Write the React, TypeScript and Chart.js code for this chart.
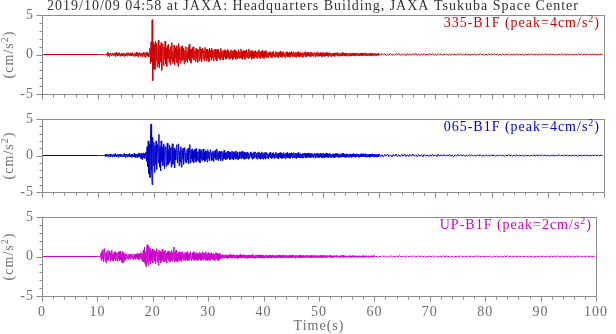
import React, { useEffect, useRef } from 'react';
import { Chart, registerables } from 'chart.js';

Chart.register(...registerables);

// ---------- text ----------
const TITLE = '2019/10/09 04:58 at JAXA: Headquarters Building, JAXA Tsukuba Space Center';
const X_TITLE = 'Time(s)';
const Y_TITLE = '(cm/s';
const LABELS = ['335-B1F', '065-B1F', 'UP-B1F'];
const PEAKS = [4, 4, 2];
const COLORS = ['#d00000', '#0000cc', '#cc00cc'];

// ---------- axes ----------
const X_MIN = 0;
const X_MAX = 100;
const X_STEP = 10;
const X_MINOR = 2;
const Y_MIN = -5;
const Y_MAX = 5;
const Y_STEP = 5;
const Y_MINOR = 1;

// ---------- sampling of the traces (s) ----------
const A_START = 10; const A_STEP = 0.1; // 10.0 .. 39.9 s
const B_START = 40; const B_STEP = 0.1; // 40.0 .. 59.9 s
const C_START = 60; const C_STEP = 0.25; // 60.0 .. 99.75 s

// ===== 335-B1F (cm/s^2) =====
const ns335A = [
  0, 0, 0, 0, 0, 0, 0, 0, 0, 0,
  0, 0, 0, 0, 0, 0.1, -0.2, 0.3, -0.1, 0.2,
  -0.3, 0.1, 0.2, -0.1, -0.2, 0.15, 0.05, -0.15, 0.2, -0.1,
  0.1, -0.25, 0.3, -0.05, 0.1, -0.2, 0.15, -0.1, 0.25, -0.2,
  0.05, 0.15, -0.2, 0.1, -0.1, 0.2, -0.25, 0.1, 0.05, -0.15,
  0.2, -0.1, -0.2, 0.25, -0.05, 0.1, -0.2, 0.2, -0.1, 0.15,
  -0.2, 0.25, -0.1, 0.05, -0.25, 0.2, 0.1, -0.2, 0.3, -0.15,
  0.1, -0.3, 0.2, -0.1, 0.25, -0.2, 0.05, 0.2, -0.3, 0.15,
  -0.1, 0.3, -0.25, 0.2, -0.35, 0.25, -0.1, 0.3, -0.2, 0.1,
  -0.3, 0.2, 0.8, -1.2, 1.6, -0.9, 4.4, -3.3, 1.5, -1.8,
  1.2, -1.9, 1.7, -0.8, 1.4, -1.6, 0.6, 1.8, -1.2, -1.7,
  1.1, -0.9, 1.5, -2.0, 0.7, 1.3, -1.4, 0.9, -0.6, 1.7,
  -1.2, 0.8, -1.5, 1.1, -0.5, 1.3, -1.0, 0.6, -1.3, 1.0,
  -0.7, 1.5, -1.1, 0.4, -0.9, 1.2, -1.3, 0.8, -0.4, 1.1,
  -1.0, 0.7, -1.5, 1.4, -0.6, 0.9, -1.1, 0.5, 1.0, -0.8,
  1.1, -0.6, 0.8, -1.2, 0.5, -0.9, 1.0, -0.7, 0.4, -1.0,
  0.9, -0.5, 1.3, -0.8, 0.6, -1.1, 0.7, -0.4, 0.9, -0.7,
  1.0, -0.6, 0.5, -0.9, 0.8, -0.5, 0.7, -1.0, 0.4, 0.6,
  -0.8, 1.0, -0.5, 0.7, -0.9, 0.3, 0.8, -0.6, 0.5, -0.8,
  0.9, -0.4, 0.6, -0.8, 0.7, -0.5, 0.4, -0.9, 0.8, -0.3,
  0.6, -0.7, 0.8, -0.4, 0.5, -0.8, 0.6, -0.3, 0.7, -0.6,
  0.5, -0.8, 0.7, -0.4, 0.6, -0.5, 0.3, -0.7, 0.8, -0.4,
  0.5, -0.6, 0.4, -0.7, 0.6, -0.3, 0.5, -0.6, 0.4, -0.5,
  0.7, -0.4, 0.5, -0.6, 0.3, -0.5, 0.6, -0.4, 0.5, -0.7,
  0.4, -0.5, 0.6, -0.3, 0.5, -0.6, 0.4, -0.5, 0.3, -0.4,
  0.6, -0.5, 0.3, -0.4, 0.7, -0.5, 0.4, -0.6, 0.5, -0.3,
  0.4, -0.6, 0.5, -0.3, 0.6, -0.4, 0.3, -0.5, 0.7, -0.4,
  0.5, -0.3, 0.4, -0.6, 0.5, -0.4, 0.3, -0.5, 0.4, -0.3,
  0.5, -0.4, 0.3, -0.5, 0.4, -0.3, 0.6, -0.4, 0.3, -0.5,
  0.4, -0.3, 0.5, -0.4, 0.3, -0.5, 0.4, -0.3, 0.5, -0.4,
];
const ns335B = [
  0.4, -0.3, 0.2, -0.45, 0.3, -0.1, 0.35, -0.3, 0.15, -0.4,
  0.3, -0.2, 0.45, -0.35, 0.1, -0.3, 0.4, -0.2, 0.3, -0.35,
  0.2, -0.4, 0.3, -0.15, 0.45, -0.3, 0.2, -0.35, 0.3, -0.2,
  0.35, -0.25, 0.1, -0.4, 0.3, -0.2, 0.35, -0.3, 0.15, -0.25,
  0.3, -0.35, 0.2, -0.1, 0.4, -0.3, 0.25, -0.2, 0.35, -0.15,
  -0.3, 0.25, -0.35, 0.15, 0.3, -0.2, 0.35, -0.3, 0.1, -0.25,
  0.3, -0.2, 0.15, -0.35, 0.25, -0.3, 0.2, -0.1, 0.35, -0.25,
  0.2, -0.3, 0.25, -0.15, 0.3, -0.2, 0.1, -0.3, 0.25, -0.2,
  0.3, -0.15, 0.2, -0.25, 0.1, 0.25, -0.3, 0.2, -0.15, 0.25,
  -0.2, 0.3, -0.25, 0.1, -0.2, 0.25, -0.15, 0.2, -0.3, 0.15,
  0.25, -0.2, 0.1, -0.25, 0.2, -0.15, 0.3, -0.2, 0.15, -0.25,
  0.2, -0.1, 0.25, -0.2, 0.15, -0.25, 0.1, -0.15, 0.2, -0.2,
  0.15, -0.25, 0.2, -0.1, 0.2, -0.15, 0.25, -0.2, 0.1, -0.2,
  0.2, -0.15, 0.1, -0.2, 0.25, -0.15, 0.2, -0.1, 0.15, -0.2,
  0.15, -0.2, 0.2, -0.1, 0.15, -0.2, 0.1, -0.15, 0.2, -0.15,
  0.1, -0.2, 0.15, -0.1, 0.2, -0.15, 0.1, -0.2, 0.15, -0.1,
  0.2, -0.1, 0.15, -0.15, 0.1, -0.2, 0.15, -0.1, 0.2, -0.15,
  0.1, -0.15, 0.2, -0.1, 0.15, -0.1, 0.2, -0.15, 0.1, -0.15,
  0.15, -0.1, 0.1, -0.2, 0.15, -0.1, 0.1, -0.15, 0.2, -0.1,
  0.1, -0.15, 0.15, -0.1, 0.1, -0.15, 0.1, -0.1, 0.15, -0.1,
];
const ns335C = [
  0.1, -0.1, 0.15, -0.05, 0.1, -0.15, 0.05, -0.1,
  0.15, -0.1, 0.05, -0.1, 0.1, -0.05, 0.15, -0.1,
  0.05, -0.1, 0.1, -0.15, 0.1, -0.05, 0.1, -0.1,
  0.1, -0.05, 0.15, -0.1, 0.05, -0.1, 0.1, -0.05,
  0.1, -0.1, 0.05, -0.1, 0.15, -0.05, 0.1, -0.1,
  0.05, -0.1, 0.1, -0.05, 0.1, -0.1, 0.05, -0.05,
  0.1, -0.1, 0.05, -0.1, 0.1, -0.05, 0.05, -0.1,
  0.1, -0.05, 0.1, -0.1, 0.05, -0.05, 0.1, -0.1,
  0.05, -0.1, 0.05, -0.05, 0.1, -0.1, 0.05, -0.05,
  0.1, -0.05, 0.05, -0.1, 0.05, -0.05, 0.1, -0.05,
  0.05, -0.05, 0.1, -0.05, 0.05, -0.1, 0.05, -0.05,
  0.1, -0.05, 0.05, -0.05, 0.05, -0.1, 0.05, -0.05,
  0.05, -0.05, 0.1, -0.05, 0.05, -0.05, 0.05, -0.1,
  0.05, -0.05, 0.05, -0.05, 0.1, -0.05, 0.05, -0.05,
  0.05, -0.1, 0.05, -0.05, 0.05, -0.05, 0.1, -0.05,
  0.05, -0.05, 0.05, -0.05, 0.05, -0.1, 0.05, -0.05,
  0.05, -0.05, 0.1, -0.05, 0.05, -0.05, 0.05, -0.05,
  0.05, -0.05, 0.05, -0.05, 0.05, -0.05, 0.1, -0.05,
  0.05, -0.05, 0.05, -0.05, 0.05, -0.05, 0.05, -0.05,
  0.05, -0.05, 0.05, -0.05, 0.05, -0.05, 0.05, 0,
];

// ===== 065-B1F (cm/s^2) =====
const ew065A = [
  0, 0, 0, 0, 0, 0, 0, 0, 0, 0,
  0, 0, 0.1, -0.15, 0.2, -0.1, 0.05, 0.15, -0.2, 0.1,
  -0.1, 0.2, -0.15, 0.05, 0.2, -0.2, 0.1, -0.05, 0.15, -0.2,
  0.25, -0.1, 0.05, -0.2, 0.15, 0.1, -0.25, 0.2, -0.1, 0.15,
  -0.2, 0.1, 0.2, -0.15, 0.05, -0.2, 0.25, -0.1, 0.15, -0.25,
  0.1, 0.2, -0.2, 0.15, -0.1, 0.25, -0.2, 0.05, -0.15, 0.2,
  -0.25, 0.15, 0.05, -0.2, 0.3, -0.15, 0.2, -0.3, 0.1, 0.2,
  -0.3, 0.25, -0.15, 0.35, -0.2, 0.1, -0.4, 0.3, -0.55, 0.2,
  0.35, -0.3, 0.25, -0.4, 0.3, 0.5, -0.8, 1.2, -1.5, 2.0,
  -2.5, 1.6, -3.0, 2.4, 4.3, -2.0, -4.0, 2.5, -1.4, 1.8,
  -2.3, 1.4, -1.2, 2.0, -1.9, 0.8, 1.5, -1.0, 2.9, -1.6,
  1.2, -2.1, 2.0, -0.8, 1.1, -1.4, 1.5, -0.6, -1.8, 1.0,
  1.2, -1.5, 0.6, 1.7, -1.3, 0.8, -1.0, 1.4, -0.7, 1.1,
  -1.6, 0.9, 1.6, -1.2, 0.5, 1.0, -1.7, 0.8, -0.6, 1.2,
  1.5, -1.0, 0.7, 1.6, -1.4, 0.6, -0.9, 1.2, -1.6, 0.8,
  -0.5, 1.0, -1.2, 0.6, 1.1, -0.9, 0.4, -1.0, 0.8, -0.6,
  1.0, -1.1, 0.5, 1.5, -1.0, 0.7, -0.5, 0.9, -0.8, 0.6,
  -1.0, 0.8, -0.4, 0.9, -0.9, 1.0, -0.6, 0.5, -0.8, 0.7,
  0.9, -1.0, 0.6, -0.5, 0.8, -0.7, 0.4, 0.9, -0.6, 0.5,
  -0.8, 0.7, -0.5, 0.6, -0.9, 0.8, -0.4, 0.5, -0.7, 0.6,
  0.8, -0.7, 0.4, -0.6, 0.6, -0.8, 0.5, -0.3, 0.7, -0.5,
  -0.6, 0.9, -0.5, 0.4, -0.7, 0.6, -0.4, 0.5, -0.7, 0.3,
  0.6, -0.7, 0.4, -0.5, 0.7, -0.4, 0.3, -0.6, 0.5, -0.4,
  -0.5, 0.6, -0.3, 0.5, -0.6, 0.4, -0.5, 0.3, 0.6, -0.5,
  0.5, -0.6, 0.4, -0.3, 0.6, -0.5, 0.3, -0.4, 0.5, -0.6,
  -0.6, 0.5, -0.4, 0.3, 0.5, -0.5, 0.6, -0.3, 0.4, -0.5,
  0.5, -0.5, 0.3, -0.4, 0.4, -0.3, 0.5, -0.5, 0.3, -0.4,
  -0.4, 0.5, -0.3, 0.4, -0.5, 0.3, -0.4, 0.5, -0.3, 0.4,
  0.5, -0.4, 0.3, -0.5, 0.4, -0.3, 0.5, -0.4, 0.3, -0.5,
  -0.4, 0.5, -0.4, 0.3, -0.5, 0.4, -0.3, 0.4, -0.5, 0.3,
];
const ew065B = [
  0.4, -0.35, 0.2, -0.45, 0.3, -0.2, 0.45, -0.3, 0.15, -0.4,
  0.35, -0.25, 0.4, -0.4, 0.2, -0.3, 0.45, -0.25, 0.3, -0.4,
  0.25, -0.45, 0.35, -0.2, 0.4, -0.35, 0.3, -0.4, 0.2, -0.3,
  0.4, -0.3, 0.2, -0.45, 0.35, -0.25, 0.4, -0.3, 0.2, -0.35,
  0.35, -0.4, 0.25, -0.2, 0.4, -0.35, 0.3, -0.25, 0.4, -0.2,
  -0.35, 0.3, -0.4, 0.2, 0.35, -0.25, 0.4, -0.3, 0.15, -0.35,
  0.3, -0.25, 0.2, -0.35, 0.3, -0.3, 0.25, -0.15, 0.35, -0.3,
  0.25, -0.35, 0.3, -0.2, 0.35, -0.25, 0.15, -0.3, 0.3, -0.25,
  0.3, -0.2, 0.25, -0.3, 0.15, 0.3, -0.35, 0.25, -0.2, 0.3,
  -0.25, 0.35, -0.3, 0.15, -0.25, 0.3, -0.2, 0.25, -0.35, 0.2,
  0.3, -0.25, 0.15, -0.3, 0.25, -0.2, 0.35, -0.25, 0.2, -0.3,
  0.25, -0.15, 0.3, -0.25, 0.2, -0.3, 0.15, -0.2, 0.25, -0.25,
  0.2, -0.3, 0.25, -0.15, 0.25, -0.2, 0.3, -0.25, 0.15, -0.25,
  0.25, -0.2, 0.15, -0.25, 0.3, -0.2, 0.25, -0.15, 0.2, -0.25,
  0.2, -0.25, 0.25, -0.15, 0.2, -0.25, 0.15, -0.2, 0.25, -0.2,
  0.15, -0.25, 0.2, -0.15, 0.25, -0.2, 0.15, -0.25, 0.2, -0.15,
  0.25, -0.15, 0.2, -0.2, 0.15, -0.25, 0.2, -0.15, 0.25, -0.2,
  0.15, -0.2, 0.25, -0.15, 0.2, -0.15, 0.25, -0.2, 0.15, -0.2,
  0.2, -0.15, 0.15, -0.25, 0.2, -0.15, 0.15, -0.2, 0.25, -0.15,
  0.15, -0.2, 0.2, -0.15, 0.15, -0.2, 0.15, -0.15, 0.2, -0.15,
];
const ew065C = [
  0.2, -0.15, 0.1, -0.2, 0.15, -0.1, 0.2, -0.15,
  0.1, -0.2, 0.15, -0.1, 0.2, -0.15, 0.1, -0.15,
  0.15, -0.1, 0.2, -0.15, 0.1, -0.15, 0.15, -0.1,
  0.2, -0.1, 0.1, -0.15, 0.15, -0.1, 0.1, -0.2,
  0.15, -0.1, 0.1, -0.15, 0.1, -0.1, 0.15, -0.1,
  0.1, -0.15, 0.15, -0.1, 0.1, -0.1, 0.15, -0.1,
  0.1, -0.1, 0.15, -0.1, 0.05, -0.15, 0.1, -0.1,
  0.15, -0.1, 0.1, -0.05, 0.1, -0.1, 0.05, -0.1,
  0.1, -0.05, 0.1, -0.1, 0.05, -0.1, 0.1, -0.05,
  0.1, -0.1, 0.05, -0.1, 0.1, -0.05, 0.05, -0.1,
  0.1, -0.05, 0.05, -0.1, 0.05, -0.05, 0.1, -0.05,
  0.05, -0.1, 0.05, -0.05, 0.1, -0.05, 0.05, -0.1,
  0.05, -0.05, 0.1, -0.05, 0.05, -0.05, 0.05, -0.1,
  0.05, -0.05, 0.05, -0.1, 0.05, -0.05, 0.1, -0.05,
  0.05, -0.05, 0.05, -0.05, 0.1, -0.05, 0.05, -0.05,
  0.05, -0.1, 0.05, -0.05, 0.05, -0.05, 0.05, -0.05,
  0.1, -0.05, 0.05, -0.05, 0.05, -0.05, 0.05, -0.05,
  0.05, -0.05, 0.05, -0.05, 0.05, -0.1, 0.05, -0.05,
  0.05, -0.05, 0.05, -0.05, 0.05, -0.05, 0.05, -0.05,
  0.05, -0.05, 0.05, -0.05, 0.05, -0.05, 0.05, 0,
];

// ===== UP-B1F (cm/s^2) =====
const udA = [
  0, 0, 0, 0, 0, 0, 0.4, -0.5, 0.7, -0.3,
  0.9, -0.7, 0.5, 1.0, -0.6, 0.4, -0.8, 0.6, -0.4, 0.8,
  -0.5, 0.3, 0.7, -0.6, 0.5, -0.4, 0.8, -0.5, 0.3, -0.6,
  0.5, -0.3, 0.6, -0.5, 0.2, 0.4, -0.6, 0.5, -0.3, 0.6,
  -0.5, 0.7, -0.4, 0.3, -0.7, 0.6, -0.8, 0.4, 0.5, -0.6,
  0.3, -0.4, 0.2, 0.35, -0.3, 0.15, -0.35, 0.3, -0.2, 0.25,
  -0.3, 0.2, 0.35, -0.25, 0.1, -0.4, 0.3, -0.2, 0.25, -0.35,
  0.3, -0.2, 0.4, -0.3, 0.25, -0.4, 0.35, -0.15, 0.5, -0.35,
  0.4, -0.6, 0.5, 0.8, -0.7, 1.2, -1.0, 0.6, -1.3, 0.9,
  1.5, -0.8, -1.1, 1.3, -0.6, 1.0, -0.9, 0.7, -0.5, 0.9,
  -0.8, 0.5, 0.9, -0.6, 0.7, -0.9, 0.4, 1.0, -0.7, 0.6,
  -1.1, 0.8, -0.5, 0.7, -0.8, 0.5, -0.6, 0.9, -0.4, 0.6,
  -0.7, 0.5, 0.8, -0.6, 0.4, -0.8, 0.6, -0.3, 0.7, -0.5,
  0.6, -0.7, 0.4, -0.5, 0.8, -0.6, 0.5, -0.4, 1.2, -0.7,
  0.6, -0.5, 0.8, -0.6, 0.3, -0.7, 0.5, -0.4, 0.6, -0.5,
  0.4, -0.6, 0.5, -0.3, 0.6, -0.5, 0.3, -0.4, 0.5, -0.6,
  0.5, -0.4, 0.6, -0.5, 0.3, -0.5, 0.4, -0.3, 0.6, -0.4,
  -0.5, 0.4, -0.3, 0.6, -0.4, 0.5, -0.5, 0.3, -0.4, 0.5,
  0.4, -0.5, 0.3, -0.4, 0.5, -0.3, 0.4, -0.5, 0.3, -0.4,
  0.6, -0.4, 0.5, -0.3, 0.4, -0.5, 0.6, -0.4, 0.3, -0.5,
  0.5, -0.4, 0.3, -0.5, 0.4, -0.3, 0.5, -0.4, 0.3, -0.4,
  0.4, -0.5, 0.3, -0.4, 0.5, -0.3, 0.4, -0.4, 0.3, -0.5,
  0.4, -0.3, 0.2, -0.25, 0.2, -0.15, 0.25, -0.2, 0.15, -0.2,
  0.2, -0.15, 0.25, -0.2, 0.1, -0.25, 0.2, -0.15, 0.2, -0.1,
  0.25, -0.2, 0.15, -0.2, 0.2, -0.1, 0.25, -0.2, 0.15, -0.2,
  0.2, -0.15, 0.2, -0.25, 0.1, -0.2, 0.2, -0.15, 0.25, -0.2,
  0.15, -0.2, 0.2, -0.1, 0.25, -0.2, 0.15, -0.2, 0.2, -0.15,
  0.2, -0.25, 0.15, -0.2, 0.2, -0.15, 0.1, -0.2, 0.2, -0.15,
  0.25, -0.2, 0.15, -0.2, 0.1, -0.2, 0.2, -0.15, 0.2, -0.1,
  0.2, -0.15, 0.2, -0.2, 0.15, -0.1, 0.2, -0.2, 0.15, -0.2,
];
const udB = [
  0.15, -0.2, 0.1, -0.15, 0.2, -0.1, 0.15, -0.2, 0.1, -0.15,
  0.2, -0.1, 0.15, -0.2, 0.1, -0.15, 0.2, -0.1, 0.15, -0.15,
  0.1, -0.2, 0.15, -0.1, 0.2, -0.15, 0.1, -0.15, 0.2, -0.1,
  0.15, -0.15, 0.1, -0.2, 0.15, -0.1, 0.2, -0.15, 0.1, -0.15,
  0.2, -0.1, 0.15, -0.15, 0.1, -0.2, 0.15, -0.1, 0.15, -0.15,
  0.1, -0.15, 0.2, -0.1, 0.15, -0.15, 0.1, -0.2, 0.15, -0.1,
  0.15, -0.1, 0.1, -0.15, 0.15, -0.1, 0.2, -0.15, 0.1, -0.15,
  0.1, -0.15, 0.15, -0.1, 0.1, -0.15, 0.15, -0.1, 0.15, -0.1,
  0.15, -0.1, 0.1, -0.15, 0.1, -0.1, 0.15, -0.15, 0.1, -0.1,
  0.1, -0.15, 0.15, -0.1, 0.1, -0.1, 0.15, -0.1, 0.1, -0.15,
  0.1, -0.1, 0.15, -0.1, 0.1, -0.15, 0.1, -0.1, 0.15, -0.1,
  0.1, -0.15, 0.1, -0.1, 0.15, -0.1, 0.1, -0.05, 0.1, -0.1,
  0.15, -0.1, 0.1, -0.1, 0.05, -0.15, 0.1, -0.1, 0.1, -0.05,
  0.1, -0.1, 0.15, -0.05, 0.1, -0.1, 0.05, -0.1, 0.1, -0.1,
  0.1, -0.05, 0.1, -0.1, 0.15, -0.1, 0.05, -0.1, 0.1, -0.05,
  0.1, -0.1, 0.05, -0.1, 0.1, -0.05, 0.1, -0.1, 0.05, -0.1,
  0.1, -0.05, 0.1, -0.1, 0.05, -0.1, 0.1, -0.05, 0.1, -0.1,
  0.05, -0.1, 0.1, -0.05, 0.1, -0.1, 0.05, -0.1, 0.1, -0.05,
  0.1, -0.1, 0.05, -0.1, 0.1, -0.05, 0.1, -0.05, 0.05, -0.1,
  0.1, -0.05, 0.05, -0.1, 0.1, -0.05, 0.05, -0.1, 0.1, -0.05,
];
const udC = [
  0.1, -0.05, 0.05, -0.1, 0.05, -0.05, 0.1, -0.05,
  0.05, -0.1, 0.05, -0.05, 0.1, -0.05, 0.05, -0.05,
  0.05, -0.05, 0.1, -0.05, 0.05, -0.05, 0.05, -0.1,
  0.05, -0.05, 0.05, -0.05, 0.1, -0.05, 0.05, -0.05,
  0.1, -0.05, 0.05, -0.05, 0.05, -0.1, 0.05, -0.05,
  0.05, -0.05, 0.05, -0.1, 0.05, -0.05, 0.05, -0.05,
  0.05, -0.05, 0.1, -0.05, 0.05, -0.05, 0.05, -0.05,
  0.05, -0.1, 0.05, -0.05, 0.05, -0.05, 0.1, -0.05,
  0.05, -0.05, 0.05, -0.05, 0.05, -0.05, 0.05, -0.05,
  0.05, -0.05, 0.1, -0.05, 0.05, -0.05, 0.05, -0.05,
  0.05, -0.05, 0.05, -0.05, 0.05, -0.1, 0.05, -0.05,
  0.05, -0.05, 0.05, -0.05, 0.05, -0.05, 0.05, -0.05,
  0.1, -0.05, 0.05, -0.05, 0.05, -0.05, 0.05, -0.05,
  0.05, -0.05, 0.05, -0.05, 0.05, -0.05, 0.05, -0.05,
  0.05, -0.05, 0.05, -0.1, 0.05, -0.05, 0.05, -0.05,
  0.05, -0.05, 0.05, -0.05, 0.05, -0.05, 0.05, -0.05,
  0.05, -0.05, 0.05, -0.05, 0.1, -0.05, 0.05, -0.05,
  0.05, -0.05, 0.05, -0.05, 0.05, -0.05, 0.05, -0.05,
  0.05, -0.05, 0.05, -0.05, 0.05, -0.05, 0.05, -0.05,
  0.05, -0.05, 0.05, -0.05, 0.05, -0.05, 0.05, 0,
];

const SERIES = [
  [ns335A, ns335B, ns335C],
  [ew065A, ew065B, ew065C],
  [udA, udB, udC],
];

// ---------- style ----------
const FONT = "'Liberation Serif', 'Times New Roman', serif";
const AXIS_COLOR = '#8c8c8c';
const TICK_TEXT = '#6e6e6e';
const TITLE_COLOR = '#333333';
const SPACING = '1px';

function buildPoints(a: number[], b: number[], c: number[]) {
  const pts: { x: number; y: number }[] = [{ x: X_MIN, y: 0 }];
  const push = (arr: number[], start: number, step: number) =>
    arr.forEach((v, i) => pts.push({ x: Math.round((start + i * step) * 100) / 100, y: v }));
  push(a, A_START, A_STEP);
  push(b, B_START, B_STEP);
  push(c, C_START, C_STEP);
  return pts;
}

function drawWithSup(ctx: any, base: string, sup: string, tail: string, x: number, y: number, size: number, align: 'left' | 'right' | 'center') {
  const mainFont = `${size}px ${FONT}`;
  const supFont = `${Math.round(size * 0.72)}px ${FONT}`;
  ctx.font = mainFont;
  const w1 = ctx.measureText(base).width;
  const w3 = ctx.measureText(tail).width;
  ctx.font = supFont;
  const w2 = ctx.measureText(sup).width;
  const total = w1 + w2 + w3;
  let sx = x;
  if (align === 'right') sx = x - total;
  else if (align === 'center') sx = x - total / 2;
  ctx.textAlign = 'left';
  ctx.textBaseline = 'alphabetic';
  ctx.font = mainFont;
  ctx.fillText(base, sx, y);
  ctx.font = supFont;
  ctx.fillText(sup, sx + w1, y - size * 0.38);
  ctx.font = mainFont;
  ctx.fillText(tail, sx + w1 + w2, y);
}

const decorPlugin = {
  id: 'decor',
  beforeLayout(chart: any) {
    chart.ctx.letterSpacing = SPACING;
  },
  beforeDraw(chart: any) {
    chart.ctx.letterSpacing = SPACING;
  },
  afterDraw(chart: any, _args: any, opts: any) {
    const { ctx, chartArea: a, scales } = chart;
    const xs = scales.x;
    const ys = scales.y;
    ctx.save();
    ctx.letterSpacing = SPACING;
    ctx.strokeStyle = AXIS_COLOR;
    ctx.lineWidth = 1;
    const L = Math.round(a.left) + 0.5;
    const T = Math.round(a.top) + 0.5;
    const R = Math.round(a.right) + 0.5;
    const B = Math.round(a.bottom) + 0.5;
    ctx.strokeRect(L, T, R - L, B - T);
    ctx.beginPath();
    for (let v = Y_MIN; v <= Y_MAX; v += Y_MINOR) {
      const y = Math.round(ys.getPixelForValue(v)) + 0.5;
      const len = v % Y_STEP === 0 ? 6 : 3;
      ctx.moveTo(L - len, y);
      ctx.lineTo(L, y);
    }
    for (let t = X_MIN; t <= X_MAX; t += X_MINOR) {
      const x = Math.round(xs.getPixelForValue(t)) + 0.5;
      const len = t % X_STEP === 0 ? 5 : 3;
      ctx.moveTo(x, B);
      ctx.lineTo(x, B + len);
    }
    ctx.stroke();

    // panel annotation
    ctx.fillStyle = opts.color;
    drawWithSup(ctx, `${opts.label} (peak=${opts.peak}cm/s`, '2', ')', a.right - 4, a.top + 12, 14, 'right');

    // y-axis title
    ctx.fillStyle = TICK_TEXT;
    ctx.save();
    ctx.translate(13, (a.top + a.bottom) / 2);
    ctx.rotate(-Math.PI / 2);
    drawWithSup(ctx, Y_TITLE, '2', ')', 0, 0, 14, 'center');
    ctx.restore();

    if (opts.title) {
      ctx.fillStyle = TITLE_COLOR;
      ctx.font = `14px ${FONT}`;
      ctx.textAlign = 'center';
      ctx.textBaseline = 'alphabetic';
      ctx.fillText(opts.title, 313, 10);
    }
    if (opts.xTitle) {
      ctx.fillStyle = TICK_TEXT;
      ctx.font = `14px ${FONT}`;
      ctx.textAlign = 'center';
      ctx.textBaseline = 'alphabetic';
      ctx.fillText(opts.xTitle, (a.left + a.right) / 2, a.bottom + 34);
    }
    ctx.restore();
  },
};

type PanelProps = {
  idx: number;
  top: number;
  height: number;
  padTop: number;
  xHeight: number;
  showX: boolean;
  title?: string;
  xTitle?: string;
};

function Panel({ idx, top, height, padTop, xHeight, showX, title, xTitle }: PanelProps) {
  const ref = useRef<HTMLCanvasElement | null>(null);
  useEffect(() => {
    if (!ref.current) return;
    const [a, b, c] = SERIES[idx];
    const chart = new Chart(ref.current, {
      type: 'line',
      data: {
        datasets: [
          {
            data: buildPoints(a, b, c),
            borderColor: COLORS[idx],
            borderWidth: 1,
            pointRadius: 0,
            tension: 0,
            fill: false,
          },
        ],
      },
      options: {
        animation: false,
        responsive: false,
        maintainAspectRatio: false,
        devicePixelRatio: 1,
        layout: { padding: { top: padTop, right: 12, left: 0, bottom: 0 } },
        plugins: {
          legend: { display: false },
          tooltip: { enabled: false },
          title: { display: false },
          decor: { color: COLORS[idx], label: LABELS[idx], peak: PEAKS[idx], title, xTitle },
        } as any,
        scales: {
          x: {
            type: 'linear',
            min: X_MIN,
            max: X_MAX,
            grid: { display: false, drawTicks: false },
            border: { display: false },
            ticks: {
              display: showX,
              stepSize: X_STEP,
              padding: 8,
              color: TICK_TEXT,
              font: { family: FONT, size: 14 },
              maxRotation: 0,
              autoSkip: false,
            },
            afterFit: (s: any) => {
              s.height = xHeight;
            },
          },
          y: {
            min: Y_MIN,
            max: Y_MAX,
            grid: { display: false, drawTicks: false },
            border: { display: false },
            ticks: {
              stepSize: Y_STEP,
              padding: 8,
              color: TICK_TEXT,
              font: { family: FONT, size: 14, lineHeight: 1 },
            },
            afterFit: (s: any) => {
              s.width = 42;
            },
          },
        },
      },
      plugins: [decorPlugin],
    });
    return () => chart.destroy();
  }, [idx, top, height, padTop, xHeight, showX, title, xTitle]);
  return (
    <canvas
      ref={ref}
      width={616}
      height={height}
      style={{ position: 'absolute', left: 0, top, width: 616, height, display: 'block' }}
    />
  );
}

export default function App() {
  return (
    <div style={{ position: 'absolute', left: 0, top: 0, width: 616, height: 334, background: '#ffffff', overflow: 'hidden' }}>
      <Panel idx={0} top={0} height={109} padTop={15} xHeight={10} showX={false} title={TITLE} />
      <Panel idx={1} top={104} height={103} padTop={10} xHeight={10} showX={false} />
      <Panel idx={2} top={202} height={132} padTop={10} xHeight={38} showX={true} xTitle={X_TITLE} />
    </div>
  );
}
